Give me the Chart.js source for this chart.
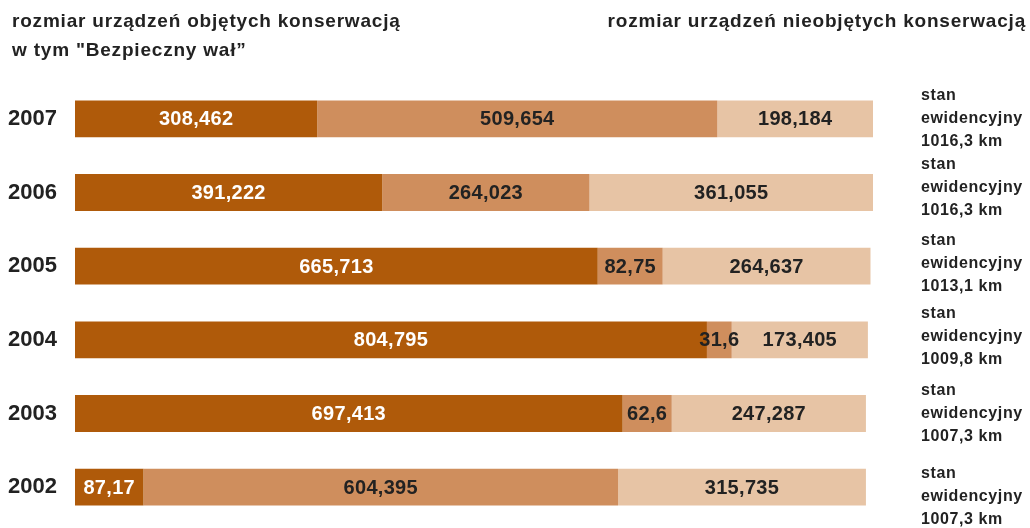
<!DOCTYPE html>
<html>
<head>
<meta charset="utf-8">
<script src="https://cdn.jsdelivr.net/npm/chart.js@4/dist/chart.umd.min.js"></script>
<style>
  html, body { margin: 0; padding: 0; background: #fff; overflow: hidden; }
  #wrap { width: 1030px; height: 528px; position: relative; }
</style>
</head>
<body>
<div id="wrap"><canvas id="chart"></canvas></div>
<script>
const years = ["2007", "2006", "2005", "2004", "2003", "2002"];
const conservedSafe = [308.462, 391.222, 665.713, 804.795, 697.413, 87.17];
const conservedOther = [509.654, 264.023, 82.75, 31.6, 62.6, 604.395];
const notConserved = [198.184, 361.055, 264.637, 173.405, 247.287, 315.735];
const registered = ["1016,3 km", "1016,3 km", "1013,1 km", "1009,8 km", "1007,3 km", "1007,3 km"];

const headerLeft = ["rozmiar urządzeń objętych konserwacją", "w tym \"Bezpieczny wał”"];
const headerRight = "rozmiar urządzeń nieobjętych konserwacją";

const colors = ["#af5a0a", "#cf8e5d", "#e7c4a5"];
const labelColors = ["#ffffff", "#222222", "#222222"];
const FONT = "'Liberation Sans', Arial, sans-serif";
// small vertical nudges of the right-hand notes, as in the original layout
const noteShift = [0, -5, -3, -3, 0, 9];

const fmt = v => String(v).replace(".", ",");

// value labels inside segments + text around the chart
const textPlugin = {
    id: "texts",
    afterDatasetsDraw(chart) {
        const ctx = chart.ctx;
        ctx.save();
        ctx.textBaseline = "middle";
        ctx.textAlign = "center";
        ctx.font = `bold 20px ${FONT}`;
        ctx.letterSpacing = "0.3px";
        chart.data.datasets.forEach((ds, i) => {
            chart.getDatasetMeta(i).data.forEach((bar, j) => {
                const cx = (bar.x + bar.base) / 2;
                ctx.fillStyle = labelColors[i];
                ctx.fillText(fmt(ds.data[j]), cx, bar.y + 1);
            });
        });

        // right side notes
        ctx.textAlign = "left";
        ctx.font = `bold 16px ${FONT}`;
        ctx.letterSpacing = "0.6px";
        ctx.fillStyle = "#222";
        const yScale = chart.scales.y;
        years.forEach((y, j) => {
            const cy = yScale.getPixelForValue(j) + noteShift[j];
            ctx.fillText("stan", 921, cy - 23);
            ctx.fillText("ewidencyjny", 921, cy);
            ctx.fillText(registered[j], 921, cy + 23);
        });

        // headers
        ctx.font = `bold 19px ${FONT}`;
        ctx.letterSpacing = "0.8px";
        ctx.fillText(headerLeft[0], 12, 22);
        ctx.fillText(headerLeft[1], 12, 51);
        ctx.textAlign = "right";
        ctx.fillText(headerRight, 1026, 22);
        ctx.restore();
    }
};

new Chart(document.getElementById("chart"), {
    type: "bar",
    data: {
        labels: years,
        datasets: [
            { data: conservedSafe, backgroundColor: colors[0] },
            { data: conservedOther, backgroundColor: colors[1] },
            { data: notConserved, backgroundColor: colors[2] }
        ]
    },
    options: {
        indexAxis: "y",
        responsive: true,
        maintainAspectRatio: false,
        animation: false,
        datasets: { bar: { categoryPercentage: 1, barPercentage: 0.5, borderWidth: 0 } },
        layout: { padding: { left: 8, right: 157, top: 82, bottom: 4 } },
        plugins: { legend: { display: false }, tooltip: { enabled: false } },
        scales: {
            x: { stacked: true, display: false, min: 0, max: 1016.3 },
            y: {
                stacked: true,
                grid: { display: false },
                border: { display: false },
                afterFit: scale => {
                    scale.width = 67;
                    scale.paddingTop = 0;
                    scale.paddingBottom = 0;
                },
                ticks: {
                    crossAlign: "far",
                    color: "#222",
                    font: { family: FONT, size: 22, weight: "bold", lineHeight: 1.0 }
                }
            }
        }
    },
    plugins: [textPlugin]
});
</script>
</body>
</html>
